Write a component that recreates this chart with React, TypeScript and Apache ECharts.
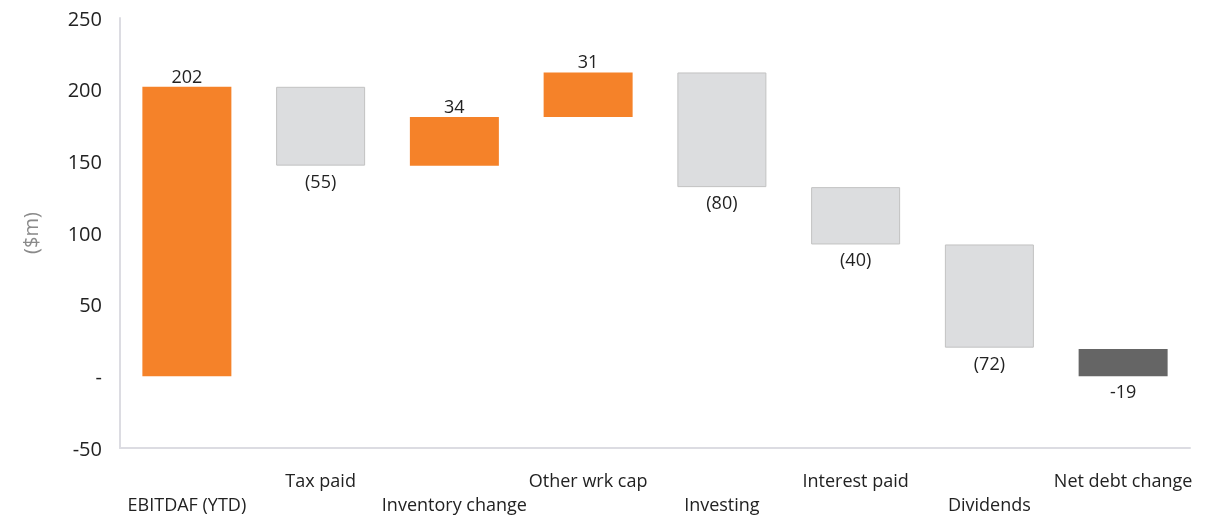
import React, { useEffect, useRef } from "react";
import * as echarts from "echarts";

// Cash-flow bridge, $m
const categories = [
  "EBITDAF (YTD)",
  "Tax paid",
  "Inventory change",
  "Other wrk cap",
  "Investing",
  "Interest paid",
  "Dividends",
  "Net debt change",
];
const deltas = [202, -55, 34, 31, -80, -40, -72, -19];
const yTicks = { min: -50, max: 250, interval: 50 };

const ORANGE = "#F58229";
const LIGHT = "#DCDDDF";
const DARK = "#656565";
const FONT = "Open Sans";

export default function App() {
  const ref = useRef<HTMLDivElement>(null);

  useEffect(() => {
    if (!ref.current) return;
    const chart = echarts.init(ref.current, undefined, { renderer: "svg" });

    const last = deltas.length - 1;
    const base: number[] = [];
    const size: number[] = [];
    let running = 0;
    deltas.forEach((d, i) => {
      if (i === last) {
        base.push(0);
        size.push(Math.abs(d));
        return;
      }
      if (d >= 0) {
        base.push(running);
        size.push(d);
      } else {
        base.push(running + d);
        size.push(-d);
      }
      running += d;
    });

    const fmt = (i: number) => {
      const d = deltas[i];
      if (i === last) return String(d);
      return d < 0 ? `(${-d})` : String(d);
    };

    chart.setOption({
      animation: false,
      grid: { left: 120, right: 18, top: 18, bottom: 68, outerBoundsMode: "none" },
      xAxis: {
        type: "category",
        data: categories,
        axisLine: { show: true, onZero: false, lineStyle: { color: "#DCDCE2", width: 2 } },
        axisTick: { show: false },
        axisLabel: {
          interval: 0,
          color: "#222",
          fontFamily: FONT,
          fontSize: 18,
          lineHeight: 24,
          margin: 20,
          formatter: (v: string, i: number) => (i % 2 === 0 ? "\n" + v : v),
        },
      },
      yAxis: {
        type: "value",
        min: yTicks.min,
        max: yTicks.max,
        interval: yTicks.interval,
        name: "($m)",
        nameLocation: "middle",
        nameGap: 80,
        nameRotate: 90,
        nameTextStyle: { color: "#8A8A8A", fontSize: 20, fontFamily: FONT },
        axisLine: { show: true, lineStyle: { color: "#DCDCE2", width: 2 } },
        axisTick: { show: false },
        splitLine: { show: false },
        axisLabel: {
          color: "#222",
          fontSize: 20,
          fontFamily: FONT,
          margin: 18,
          formatter: (v: number) => (v === 0 ? "-" : String(v)),
        },
      },
      series: [
        {
          type: "bar",
          stack: "wf",
          data: base,
          barWidth: 89,
          itemStyle: { color: "transparent" },
          silent: true,
        },
        {
          type: "bar",
          stack: "wf",
          barWidth: 89,
          data: size.map((v, i) => {
            const d = deltas[i];
            const isLast = i === last;
            const color = isLast ? DARK : d >= 0 ? ORANGE : LIGHT;
            const below = isLast || d < 0;
            return {
              value: v,
              itemStyle: {
                color,
                borderColor: !isLast && d < 0 ? "#C2C2C2" : color,
                borderWidth: !isLast && d < 0 ? 1 : 0,
              },
              label: {
                show: true,
                position: below ? "bottom" : "top",
                distance: below ? 6 : 2,
                formatter: () => fmt(i),
                color: "#222",
                fontSize: 18,
                fontFamily: FONT,
              },
            };
          }),
        },
      ],
    });

    return () => chart.dispose();
  }, []);

  return (
    <div
      ref={ref}
      style={{ position: "fixed", left: 0, top: 0, width: 1208, height: 516 }}
    />
  );
}
